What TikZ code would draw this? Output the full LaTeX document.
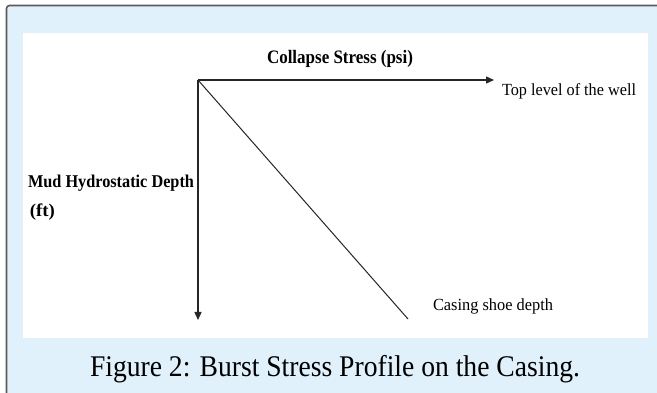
\documentclass[tikz,border=0pt]{standalone}
\usepackage{fontspec}
\setmainfont{Liberation Serif}
\usetikzlibrary{arrows.meta}
\definecolor{framebg}{HTML}{E0F1FB}
\definecolor{framebd}{HTML}{5A5A5A}
\newcommand\fitw[2]{\resizebox{#1}{\height}{#2}}
\tikzset{
  lbl/.style={inner sep=0pt, outer sep=0pt, anchor=base west, text=black},
  axis/.style={line width=1.3pt, draw=black!85, -{Triangle[length=8pt,width=7pt]}},
}
\begin{document}
\begin{tikzpicture}[x=1pt,y=-1pt]
\useasboundingbox (0,0) rectangle (657,393);
% frame
\fill[framebg] (6.5,5.5) rectangle (657,393);
\draw[framebd, line width=1.6pt, rounded corners=3pt] (6.5,393) -- (6.5,5.5) -- (657,5.5);
\fill[white] (23,33) rectangle (648,338);
% axes
\coordinate (O) at (198,80);
\coordinate (X) at (494,80);
\coordinate (Y) at (198,320);
\coordinate (D) at (408,319);
\draw[axis] (O) -- (X);
\draw[axis] (O) -- (Y);
\draw[line width=1pt, black!85] (O) -- (D);
% labels
\node[lbl] (t1) at (267,64) {\fitw{146pt}{\fontsize{19}{19}\selectfont\bfseries Collapse Stress (psi)}};
\node[lbl] (t2) at (502,96) {\fitw{134pt}{\fontsize{17}{17}\selectfont Top level of the well}};
\node[lbl] (t3) at (28,188) {\fitw{166pt}{\fontsize{18}{18}\selectfont\bfseries Mud Hydrostatic Depth}};
\node[lbl] (t4) at (30,217) {\fitw{25pt}{\fontsize{18}{18}\selectfont\bfseries (ft)}};
\node[lbl] (t5) at (433,311) {\fitw{120pt}{\fontsize{17}{17}\selectfont Casing shoe depth}};
\node[lbl] (cap) at (90,376) {\fitw{490pt}{\fontsize{30}{30}\selectfont Figure 2: Burst Stress Profile on the Casing.}};
\end{tikzpicture}
\end{document}
